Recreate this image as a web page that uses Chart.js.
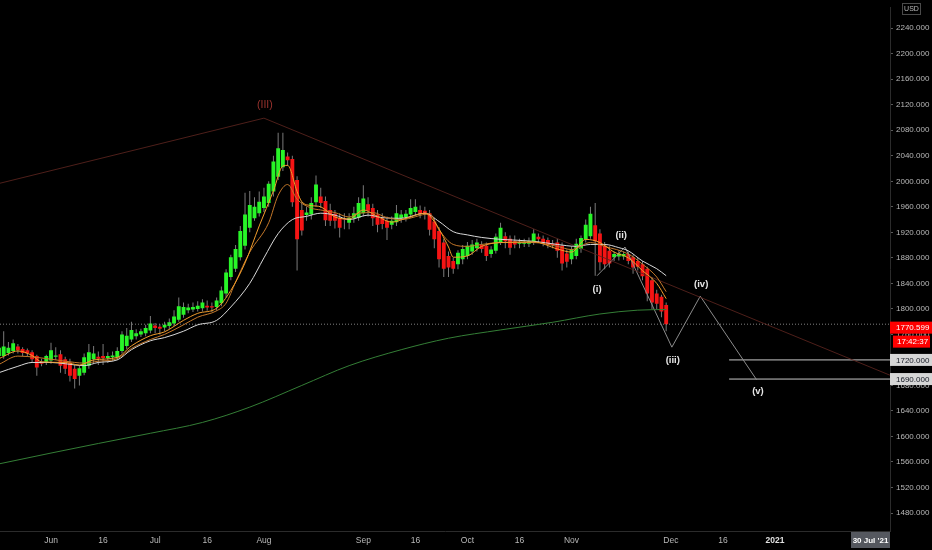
<!DOCTYPE html>
<html>
<head>
<meta charset="utf-8">
<script src="https://cdn.jsdelivr.net/npm/chart.js@4"></script>
<style>
  html, body { margin: 0; padding: 0; background: #000; }
  #wrap { width: 932px; height: 550px; }
</style>
</head>
<body>
<div id="wrap"><canvas id="myChart" width="932" height="550"></canvas></div>
<script>
// daily candles, bar index 0 = 1 Jun 2020
const firstBar = -11;
const opens = [
  1726,1726,1731,1734,1741,1737,1735,1732,1726,1716,1717,
  1719,1725,1729,1721,1716,1706,1695,1700,1711,1721,
  1725,1726,1723,1724,1724,1734,1742,1752,1757,1760,
  1762,1766,1774,1772,1771,1773,1777,1783,1791,1798,
  1799,1800,1801,1805,1804,1803,1809,1824,1850,1863,
  1881,1899,1927,1942,1950,1958,1966,1984,2007,2022,
  2039,2035,2002,1955,1947,1948,1967,1976,1969,1955,
  1949,1943,1942,1935,1942,1943,1950,1964,1958,1948,
  1942,1938,1932,1936,1942,1944,1948,1952,1955,1954,
  1950,1937,1922,1904,1883,1875,1870,1878,1883,1890,
  1895,1900,1899,1886,1891,1904,1914,1910,1906,1902,
  1902,1902,1906,1913,1910,1908,1902,1904,1899,1887,
  1878,1883,1894,1909,1914,1931,1918,1899,1891,1881,
  1882,1882,1886,1881,1875,1870,1863,1845,1824,1819,1806
];
const highs = [
  1745,1765,1748,1752,1745,1740,1738,1735,1728,1722,1728,
  1747,1740,1735,1725,1722,1712,1712,1730,1745,1742,
  1733,1745,1732,1733,1740,1765,1770,1780,1768,1769,
  1775,1789,1778,1776,1780,1785,1798,1818,1810,1808,
  1810,1812,1815,1813,1810,1818,1835,1862,1885,1900,
  1930,1982,1985,1975,1984,1990,2000,2040,2076,2076,
  2045,2040,2008,1968,1960,1975,2009,1990,1976,1965,
  1955,1950,1950,1950,1960,1975,1994,1975,1965,1955,
  1950,1945,1945,1963,1955,1955,1972,1972,1962,1960,
  1955,1942,1928,1910,1890,1880,1892,1900,1905,1908,
  1910,1906,1904,1898,1918,1935,1920,1915,1915,1910,
  1910,1912,1925,1918,1915,1912,1908,1910,1904,1893,
  1898,1910,1915,1940,1960,1966,1925,1905,1898,1890,
  1892,1890,1890,1885,1880,1875,1866,1850,1830,1822,1810
];
const lows = [
  1718,1722,1727,1730,1730,1726,1725,1716,1695,1710,1712,
  1714,1720,1700,1698,1686,1675,1680,1696,1706,1715,
  1712,1712,1715,1718,1720,1730,1737,1748,1752,1756,
  1757,1762,1762,1760,1765,1768,1773,1780,1786,1793,
  1795,1796,1796,1797,1795,1797,1804,1818,1845,1858,
  1876,1893,1920,1938,1945,1952,1960,1976,2002,2016,
  2024,1960,1860,1915,1938,1940,1960,1958,1930,1930,
  1926,1912,1925,1925,1935,1938,1945,1945,1930,1920,
  1925,1908,1925,1930,1935,1937,1943,1947,1942,1940,
  1915,1895,1865,1850,1850,1855,1862,1870,1878,1885,
  1890,1888,1875,1880,1887,1900,1895,1885,1895,1895,
  1897,1897,1900,1905,1898,1895,1895,1880,1860,1865,
  1870,1878,1888,1904,1910,1852,1860,1862,1865,1875,
  1876,1877,1870,1855,1860,1845,1812,1800,1800,1787,1765
];
const closes = [
  1739,1741,1739,1746,1735,1731,1730,1721,1708,1714,1726,
  1735,1727,1711,1706,1695,1690,1707,1724,1732,1730,
  1722,1723,1726,1727,1734,1760,1758,1767,1762,1765,
  1770,1777,1770,1769,1775,1779,1788,1804,1803,1802,
  1803,1805,1810,1802,1802,1813,1829,1857,1881,1894,
  1922,1948,1963,1960,1968,1976,1996,2031,2052,2049,
  2033,1967,1909,1923,1951,1966,1995,1966,1939,1938,
  1938,1927,1940,1943,1950,1966,1973,1954,1942,1932,
  1933,1927,1938,1950,1948,1949,1958,1960,1949,1949,
  1924,1909,1878,1863,1865,1863,1888,1894,1899,1901,
  1904,1894,1883,1893,1913,1927,1906,1896,1901,1905,
  1905,1906,1918,1909,1902,1900,1900,1891,1871,1874,
  1894,1902,1911,1932,1949,1906,1873,1870,1871,1886,
  1887,1886,1875,1865,1866,1851,1824,1810,1808,1796,1776
];

// moving averages: [bar, price]
const emaFast = [[-11,1722],[-7,1734],[-4,1727],[-2,1717],[3,1716],[6,1712],[9,1720],[14,1724],[17,1742],[21,1758],[24,1764],[28,1782],[31,1793],[35,1801],[38,1829],[41,1872],[44,1930],[47,1985],[49,2024],[50,2025],[52,1984],[53,1968],[55,1962],[57,1960],[60,1944],[63,1941],[66,1955],[69,1945],[72,1936],[75,1942],[79,1950],[81,1937],[84,1897],[85,1881],[88,1883],[91,1898],[95,1904],[102,1905],[107,1894],[110,1889],[113,1909],[116,1904],[119,1889],[122,1880],[125,1860],[128,1840],[130,1816]];
const emaSlow = [[-11,1713],[-7,1726],[-3,1724],[3,1718],[7,1715],[10,1718],[14,1722],[17,1738],[21,1752],[24,1760],[28,1775],[31,1787],[35,1797],[37,1809],[39,1842],[42,1889],[46,1935],[48,1978],[50,1995],[52,1972],[55,1958],[57,1955],[60,1951],[63,1944],[65,1950],[68,1951],[71,1943],[74,1940],[80,1949],[82,1924],[85,1901],[88,1898],[91,1901],[95,1904],[102,1904],[107,1898],[110,1893],[114,1904],[117,1898],[122,1886],[125,1870],[128,1850],[130,1827]];
const emaWhite = [[-11,1700],[-7,1710],[-4,1716],[0,1716],[3,1714],[7,1711],[10,1716],[14,1720],[17,1736],[21,1750],[24,1755],[28,1765],[31,1775],[35,1782],[38,1803],[42,1840],[45,1880],[48,1918],[51,1940],[54,1945],[57,1950],[60,1947],[63,1940],[67,1947],[70,1943],[74,1942],[79,1950],[82,1937],[85,1921],[88,1916],[91,1912],[95,1909],[102,1906],[107,1901],[111,1898],[114,1901],[117,1901],[120,1896],[122,1891],[125,1875],[128,1863],[130,1852]];
const ma200 = [[-11,1557],[0,1574],[10,1589],[21,1605],[32,1622],[42,1646],[53,1680],[63,1711],[74,1736],[84,1754],[95,1767],[106,1779],[116,1792],[124,1798],[130,1799]];

// drawings
const trendLine = [[-10.78,1997],[45,2099],[177.3,1696]];
const wavePoints = [[115.4,1852],[121.3,1897],[131.2,1740],[137.2,1820],[149.1,1689]];
const waveNames = ['(i)','(ii)','(iii)','(iv)','(v)'];
const waveLabelAt = [[115.4,1830],[120.5,1915],[131.4,1720],[137.4,1838],[149.4,1671]];
const levels = [1720, 1690];
const levelStart = 143.3;
const lastPrice = 1770.599;
const countdown = '17:42:37';

const priceTicks = [1480,1520,1560,1600,1640,1680,1720,1760,1800,1840,1880,1920,1960,2000,2040,2080,2120,2160,2200,2240];
const monthTickAt = [0,11,22,33,45,66,77,88,99,110,131,142,153];
const monthTickText = ['Jun','16','Jul','16','Aug','Sep','16','Oct','16','Nov','Dec','16','2021'];

const xMin = -10.78, xMax = 177.3;
const yMin = 1451.8, yMax = 2272;

const upColor = 'rgb(40,245,40)';
const downColor = 'rgb(245,20,20)';
const axisFont = "'Liberation Sans', Arial, sans-serif";

const bodies = opens.map((o, k) => ({ x: firstBar + k, y: [o, closes[k]] }));
const wicks = opens.map((o, k) => ({ x: firstBar + k, y: [lows[k], highs[k]] }));
const pts = arr => arr.map(p => ({ x: p[0], y: p[1] }));
const lastClose = closes[closes.length - 1];

function lineSet(data, color, order, extra) {
  return Object.assign({
    type: 'line', data: pts(data), borderColor: color, borderWidth: 1,
    pointRadius: 0, fill: false, order: order
  }, extra || {});
}

const overlay = {
  id: 'overlay',
  afterDatasetsDraw(chart) {
    const { ctx, scales: { x, y } } = chart;
    ctx.save();
    ctx.textAlign = 'center';
    ctx.textBaseline = 'middle';
    ctx.font = "bold 9.5px 'Liberation Sans', Arial, sans-serif";
    ctx.fillStyle = '#e6e6e6';
    waveNames.forEach((t, k) => {
      ctx.fillText(t, x.getPixelForValue(waveLabelAt[k][0]), y.getPixelForValue(waveLabelAt[k][1]));
    });
    ctx.font = "10.5px 'Liberation Sans', Arial, sans-serif";
    ctx.fillStyle = '#9c332e';
    ctx.fillText('(III)', x.getPixelForValue(45.2), y.getPixelForValue(2119));
    ctx.restore();
  },
  afterDraw(chart) {
    const { ctx, scales: { y } } = chart;
    const left = chart.chartArea.right;
    ctx.save();
    ctx.textBaseline = 'middle';
    ctx.textAlign = 'left';
    ctx.font = '8px ' + axisFont;

    levels.forEach(v => {
      const yc = y.getPixelForValue(v);
      ctx.fillStyle = '#d6d6d6';
      ctx.fillRect(left, yc - 6, 42, 12);
      ctx.fillStyle = '#131722';
      ctx.fillText(v.toFixed(3), left + 6, yc + 0.5);
    });

    let yc = y.getPixelForValue(lastPrice);
    ctx.fillStyle = '#ff0000';
    ctx.fillRect(left, yc - 6, 42, 12);
    ctx.fillRect(left + 3, yc + 8, 37, 12);
    ctx.fillStyle = '#ffffff';
    ctx.fillText(lastPrice.toFixed(3), left + 6, yc + 0.5);
    ctx.fillText(countdown, left + 7, yc + 14.5);

    // currency tag
    ctx.strokeStyle = '#4a4a4a';
    ctx.lineWidth = 1;
    ctx.strokeRect(902.5, 3.5, 18, 11);
    ctx.fillStyle = '#b8b8b8';
    ctx.textAlign = 'center';
    ctx.font = '7px ' + axisFont;
    ctx.fillText('USD', 911.5, 9.5);

    // time tag under the axis
    ctx.fillStyle = '#55585f';
    ctx.fillRect(851, 532, 39, 16);
    ctx.fillStyle = '#ffffff';
    ctx.font = 'bold 8px ' + axisFont;
    ctx.fillText("30 Jul '21", 870.5, 540.5);
    ctx.restore();
  }
};

const ctx = document.getElementById('myChart');

new Chart(ctx, {
  type: 'bar',
  data: {
    datasets: [
      lineSet(emaFast, '#f29d2c', 0, { cubicInterpolationMode: 'monotone' }),
      lineSet(emaSlow, '#c4782a', 0, { cubicInterpolationMode: 'monotone' }),
      lineSet(emaWhite, '#d8d8d8', 0, { cubicInterpolationMode: 'monotone' }),
      lineSet(ma200, '#347e36', 0, { cubicInterpolationMode: 'monotone' }),
      lineSet(trendLine, 'rgba(92,36,30,0.85)', 1),
      lineSet(wavePoints, '#8c8c8c', 1),
      lineSet([[levelStart, levels[0]], [xMax, levels[0]]], '#c8c8c8', 1),
      lineSet([[levelStart, levels[1]], [xMax, levels[1]]], '#c8c8c8', 1),
      lineSet([[xMin, lastClose], [xMax, lastClose]], 'rgba(150,150,150,0.85)', 1, { borderDash: [1, 2] }),
      {
        type: 'bar', data: bodies, grouped: false, order: 2,
        barPercentage: 0.82, categoryPercentage: 1, minBarLength: 1,
        backgroundColor: c => (c.raw && c.raw.y[1] >= c.raw.y[0]) ? upColor : downColor
      },
      {
        type: 'bar', data: wicks, grouped: false, order: 3,
        maxBarThickness: 1, backgroundColor: '#7a7a7a'
      }
    ]
  },
  options: {
    responsive: false,
    devicePixelRatio: 1,
    animation: false,
    events: [],
    layout: { padding: 0 },
    plugins: { legend: { display: false }, tooltip: { enabled: false } },
    scales: {
      x: {
        type: 'linear', min: xMin, max: xMax, offset: false,
        grid: { display: false, drawTicks: false, offset: false },
        border: { display: true, color: '#2b2b2b' },
        afterFit: s => { s.height = 19; },
        afterBuildTicks: s => { s.ticks = monthTickAt.map(v => ({ value: v })); },
        ticks: {
          autoSkip: false, maxRotation: 0, padding: 5,
          color: c => monthTickText[c.index] === '2021' ? '#e0e0e0' : '#b8b8b8',
          font: c => ({ family: axisFont, size: 8.5, weight: monthTickText[c.index] === '2021' ? 'bold' : 'normal' }),
          callback: (v, i) => monthTickText[i]
        }
      },
      y: {
        type: 'linear', position: 'right', min: yMin, max: yMax,
        grid: { drawOnChartArea: false, drawTicks: true, tickLength: 3, color: '#5a5a5a' },
        border: { display: true, color: '#2b2b2b' },
        afterFit: s => { s.width = 42; },
        afterBuildTicks: s => { s.ticks = priceTicks.map(v => ({ value: v })); },
        ticks: {
          padding: 3, color: '#b8b8b8',
          font: { family: axisFont, size: 8 },
          callback: v => v.toFixed(3)
        }
      }
    }
  },
  plugins: [overlay]
});
</script>
</body>
</html>
